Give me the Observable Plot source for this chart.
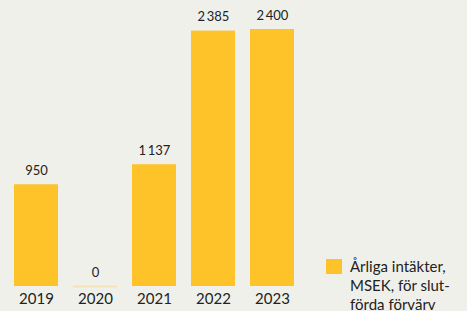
<!DOCTYPE html>
<html><head><meta charset="utf-8">
<script src="https://cdn.jsdelivr.net/npm/d3@7"></script>
<script src="https://cdn.jsdelivr.net/npm/@observablehq/plot@0.6"></script>
<style>
html,body{margin:0;padding:0;background:#f0f0eb;overflow:hidden;}
#wrap{position:relative;width:467px;height:311px;font-family:Lato,"Open Sans",sans-serif;}
#legend{position:absolute;left:326px;top:257px;display:flex;align-items:flex-start;color:#222;font-size:15px;line-height:19px;}
#legend .sw{width:16px;height:15px;background:#fdc328;margin-top:2px;margin-right:8px;flex:none;}
</style>
</head><body>
<div id="wrap"><div id="legend"><div class="sw"></div><div>Årliga intäkter,<br>MSEK, för slut-<br>förda förvärv</div></div></div>
<script>
const years = ["2019","2020","2021","2022","2023"];
const values = [950, 0, 1137, 2385, 2400];
const seriesName = "Årliga intäkter, MSEK, för slutförda förvärv";

const data = years.map((y,i)=>({year:y, value:values[i]}));
const fmt = d3.formatLocale({thousands:"\u2009", grouping:[3], decimal:","}).format(",d");
const color = "#fdc328";

const chart = Plot.plot({
  width: 467, height: 311,
  marginLeft: 14, marginRight: 172, marginTop: 29, marginBottom: 25,
  style: {background: "transparent", fontFamily: "Lato, 'Open Sans', sans-serif"},
  x: {domain: years, paddingInner: 0.25, paddingOuter: 0, label: null},
  y: {domain: [0, 2400], axis: null},
  marks: [
    Plot.barY(data, {x: "year", y: "value", fill: color}),
    Plot.ruleY(data.filter(d=>d.value===0), {x1: "year", x2: "year", y: 0, stroke: "#f5e3b0", strokeWidth: 1.5}),
    Plot.tickY(data.filter(d=>d.value===0), {x: "year", y: 0, stroke: "#f3e2b4", strokeWidth: 1.5}),
    Plot.text(data, {x: "year", y: "value", text: d=>fmt(d.value), dy: -14, fontSize: 13, fill: "#222"}),
    Plot.axisX({tickSize: 0, tickPadding: 7, fontSize: 15, color: "#222"})
  ]
});
document.getElementById("wrap").prepend(chart);
chart.style.position="absolute"; chart.style.left="0"; chart.style.top="0";
</script>
</body></html>
